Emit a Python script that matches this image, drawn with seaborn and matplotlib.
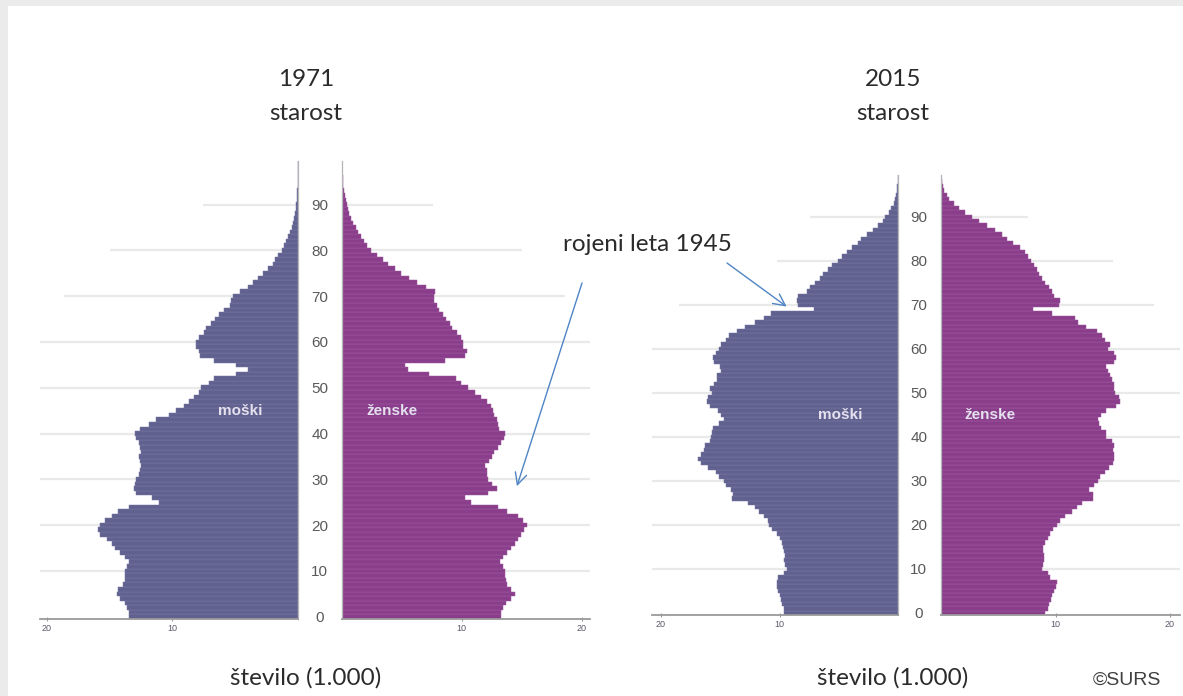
import numpy as np
import pandas as pd
import matplotlib
matplotlib.use("Agg")
import matplotlib.pyplot as plt
from matplotlib.patches import Rectangle
import seaborn as sns

# ---------------- data (thousands of persons, ages 0..100) ----------------
ages = list(range(0, 101))

male_1971 = [13.5, 13.5, 13.6, 13.8, 14.2, 14.4, 14.3, 13.9, 13.8, 13.8,
             13.8, 13.6, 13.5, 13.8, 14.2, 14.6, 14.8, 15.2, 15.8, 15.9,
             15.8, 15.4, 14.8, 14.3, 13.5, 11.1, 11.6, 12.9, 13.1, 13.0,
             12.9, 12.7, 12.6, 12.5, 12.6, 12.7, 12.5, 12.6, 12.7, 12.9,
             13.0, 12.6, 11.9, 11.3, 10.3, 9.7, 9.1, 8.7, 8.3, 7.9,
             7.7, 7.1, 6.7, 4.9, 4.0, 4.9, 6.7, 7.8, 7.9, 8.1,
             8.1, 7.9, 7.5, 7.3, 6.9, 6.6, 6.3, 5.9, 5.4, 5.3,
             5.2, 4.6, 4.0, 3.6, 3.2, 2.8, 2.4, 2.0, 1.8, 1.6,
             1.3, 1.1, 0.92, 0.76, 0.62, 0.5, 0.39, 0.3, 0.22, 0.16,
             0.12, 0.09, 0.065, 0.045, 0.03, 0.02, 0.014, 0.009, 0.006, 0.004,
             0.002]

female_1971 = [13.3, 13.3, 13.4, 13.7, 14.1, 14.4, 14.1, 13.8, 13.7, 13.6,
               13.6, 13.4, 13.2, 13.4, 13.8, 14.1, 14.4, 14.7, 14.9, 15.2,
               15.4, 15.1, 14.7, 13.8, 13.0, 10.8, 10.3, 12.2, 12.9, 12.5,
               12.2, 12.1, 12.1, 11.9, 12.3, 12.5, 12.7, 13.0, 13.3, 13.5,
               13.6, 13.1, 13.0, 12.9, 12.7, 12.6, 12.4, 12.1, 11.6, 11.1,
               10.5, 9.9, 9.5, 7.3, 5.5, 5.3, 8.6, 10.3, 10.4, 10.1,
               10.1, 9.9, 9.6, 9.2, 9.0, 8.7, 8.4, 8.1, 7.9, 7.7,
               7.7, 7.8, 7.0, 6.3, 5.6, 4.9, 4.4, 3.8, 3.4, 2.9,
               2.4, 2.1, 1.8, 1.57, 1.35, 1.13, 0.93, 0.77, 0.6, 0.49,
               0.38, 0.3, 0.23, 0.17, 0.12, 0.09, 0.06, 0.04, 0.025, 0.015,
               0.01]

male_2015 = [9.6, 9.6, 9.8, 9.9, 10.0, 10.1, 10.2, 10.2, 10.1, 9.6,
             9.4, 9.5, 9.6, 9.5, 9.6, 9.7, 9.8, 10.0, 10.2, 10.6,
             10.9, 11.0, 11.3, 11.7, 12.1, 12.7, 14.0, 13.9, 14.1, 14.5,
             14.7, 15.1, 15.4, 16.0, 16.6, 16.9, 16.6, 16.4, 16.3, 15.9,
             15.8, 15.7, 15.6, 15.1, 14.7, 14.9, 15.2, 15.9, 16.1, 16.0,
             15.7, 15.9, 15.5, 15.3, 15.3, 14.9, 15.0, 15.5, 15.6, 15.4,
             15.1, 14.9, 14.5, 14.3, 13.6, 12.9, 12.1, 11.3, 10.7, 7.1,
             8.4, 8.5, 8.4, 7.7, 7.4, 7.0, 6.6, 6.3, 5.9, 5.6,
             5.1, 4.7, 4.3, 3.9, 3.4, 3.1, 2.6, 2.1, 1.7, 1.3,
             1.06, 0.77, 0.57, 0.37, 0.23, 0.14, 0.09, 0.05, 0.03, 0.015,
             0.008]

female_2015 = [9.1, 9.3, 9.4, 9.6, 9.7, 9.9, 10.0, 10.1, 9.5, 9.3,
               8.8, 8.9, 9.0, 9.0, 8.9, 8.9, 9.1, 9.3, 9.5, 9.8,
               10.1, 10.4, 10.8, 11.4, 11.9, 12.3, 13.3, 13.3, 12.9, 13.4,
               13.7, 13.9, 14.3, 14.7, 15.0, 15.1, 15.1, 15.0, 15.1, 14.9,
               14.4, 14.4, 14.0, 13.8, 13.7, 14.0, 14.4, 15.3, 15.6, 15.5,
               15.2, 15.1, 15.1, 14.9, 14.8, 14.6, 14.4, 15.1, 15.3, 15.1,
               14.6, 14.8, 14.3, 14.1, 13.6, 12.7, 12.0, 11.7, 9.7, 8.0,
               10.3, 10.4, 9.9, 9.7, 9.4, 9.1, 8.8, 8.6, 8.4, 8.1,
               7.9, 7.6, 7.3, 6.9, 6.3, 5.8, 5.3, 4.7, 4.0, 3.3,
               2.7, 2.1, 1.6, 1.1, 0.74, 0.49, 0.26, 0.15, 0.08, 0.04,
               0.02]

age_ticks = [0, 10, 20, 30, 40, 50, 60, 70, 80, 90]
age_tick_labels = ["0", "10", "20", "30", "40", "50", "60", "70", "80", "90"]
count_ticks = [10, 20]
count_tick_labels = ["10", "20"]

years = ["1971", "2015"]
sex_labels = ["moški", "ženske"]
axis_title = "število (1.000)"
age_title = "starost"
note_text = "rojeni leta 1945"
source_text = "©SURS"

# light background grid lengths (drawn from the centre outwards)
grid_ages = [10, 20, 30, 40, 50, 60, 70, 80, 90]
grid_len = [21, 21, 21, 21, 21, 21, 18.6, 15.0, 7.6]
grid_len_2015m = [21, 21, 21, 21, 21, 21, 18.5, 10.2, 7.4]

# ---------------- style ----------------
sns.set_theme(style="white")
plt.rcParams["font.family"] = ["Liberation Sans", "DejaVu Sans"]

MALE = "#616190"
FEMALE = "#8a3d8b"
MALE_EDGE = "#7878a3"
FEMALE_EDGE = "#9c5a9d"
GRID = "#e9e9e9"
AX_COL = "#9a9a9a"
TXT_FONT = ["Lato", "DejaVu Sans"]
TXT_COL = "#2b2b2b"
TXT_SIZE = 17.5

W, H = 1183, 696
fig = plt.figure(figsize=(W / 100, H / 100), dpi=100)
fig.patch.set_facecolor("#ebebeb")
fig.add_artist(Rectangle((8 / W, 0), 1, (H - 6) / H, transform=fig.transFigure,
                         facecolor="white", edgecolor="none", zorder=0))


def px_axes(left, right, top, bottom):
    return fig.add_axes([left / W, (H - bottom) / H, (right - left) / W, (bottom - top) / H])


ax1 = px_axes(40, 298, 161, 619)
ax2 = px_axes(342, 590, 161, 619)
ax3 = px_axes(652, 898, 175, 615)
ax4 = px_axes(941, 1180, 175, 615)

panels = [
    (ax1, male_1971, MALE, MALE_EDGE, (20.55, 0), grid_len, "male"),
    (ax2, female_1971, FEMALE, FEMALE_EDGE, (0, 20.7), grid_len, "female"),
    (ax3, male_2015, MALE, MALE_EDGE, (20.76, 0), grid_len_2015m, "male"),
    (ax4, female_2015, FEMALE, FEMALE_EDGE, (0, 20.87), grid_len, "female"),
]

for ax, vals, col, ecol, xlim, glen, sex in panels:
    df = pd.DataFrame({"age": ages, "n": vals})
    ax.set_facecolor("none")
    ax.hlines(grid_ages, 0, glen, color=GRID, lw=1.6, zorder=0)
    sns.barplot(data=df, x="n", y="age", orient="y", native_scale=True,
                color=col, width=1.0, saturation=1, edgecolor=ecol,
                linewidth=0.35, errorbar=None, ax=ax, zorder=2)
    ax.set_xlim(*xlim)
    ax.set_ylim(-0.5, 99.5)
    ax.set_xlabel("")
    ax.set_ylabel("")
    for s in ["top", "left", "right", "bottom"]:
        ax.spines[s].set_visible(False)
    ax.spines["bottom"].set_visible(True)
    ax.spines["bottom"].set_color(AX_COL)
    ax.spines["bottom"].set_linewidth(1.3)
    inner = "right" if sex == "male" else "left"
    ax.spines[inner].set_visible(True)
    ax.spines[inner].set_color("#b5b5b5")
    ax.spines[inner].set_linewidth(0.9)
    ax.set_xticks(count_ticks)
    ax.set_xticklabels(count_tick_labels)
    ax.tick_params(axis="x", bottom=True, length=3, width=0.8, color=AX_COL,
                   direction="inout", labelsize=6.5, labelcolor="#5a5a6a", pad=2)
    if sex == "male":
        ax.set_yticks([])
    else:
        ax.set_yticks(age_ticks)
        ax.set_yticklabels(age_tick_labels)
        ax.tick_params(axis="y", left=False, length=0, labelsize=11,
                       labelcolor="#595959", pad=16)
        for lbl in ax.get_yticklabels():
            lbl.set_horizontalalignment("center")
    ax.grid(False)

# sex labels inside bars
for ax, x, lab in [(ax1, 4.6, sex_labels[0]), (ax2, 4.2, sex_labels[1]),
                   (ax3, 4.9, sex_labels[0]), (ax4, 4.3, sex_labels[1])]:
    ax.text(x, 45, lab, color="#e4e0ee", fontsize=11, fontweight="bold",
            ha="center", va="center", zorder=5)

# titles and axis titles
for cx, yr in [(306, years[0]), (893, years[1])]:
    fig.text(cx / W, 1 - 80 / H, yr, ha="center", va="center", fontsize=TXT_SIZE,
             color=TXT_COL, family=TXT_FONT)
    fig.text(cx / W, 1 - 113 / H, age_title, ha="center", va="center", fontsize=TXT_SIZE,
             color=TXT_COL, family=TXT_FONT)
    fig.text(cx / W, 1 - 678 / H, axis_title, ha="center", va="center", fontsize=TXT_SIZE,
             color=TXT_COL, family=TXT_FONT)

fig.text(1127 / W, 1 - 680 / H, source_text, ha="center", va="center", fontsize=14,
         color="#404040")

# annotation
fig.text(647 / W, 1 - 244 / H, note_text, ha="center", va="center", fontsize=TXT_SIZE,
         color=TXT_COL, family=TXT_FONT)
arrow_props = dict(arrowstyle="->,head_length=0.7,head_width=0.35",
                   color="#4f84c4", lw=1.0, shrinkA=0, shrinkB=0)
ax3.annotate("", xy=(9.4, 69.6), xycoords="data",
             xytext=(727, H - 263), textcoords="figure pixels",
             arrowprops=arrow_props, annotation_clip=False)
ax2.annotate("", xy=(14.6, 28.5), xycoords="data",
             xytext=(582, H - 283), textcoords="figure pixels",
             arrowprops=arrow_props, annotation_clip=False)

fig.savefig("out.png", dpi=100, facecolor=fig.get_facecolor())
